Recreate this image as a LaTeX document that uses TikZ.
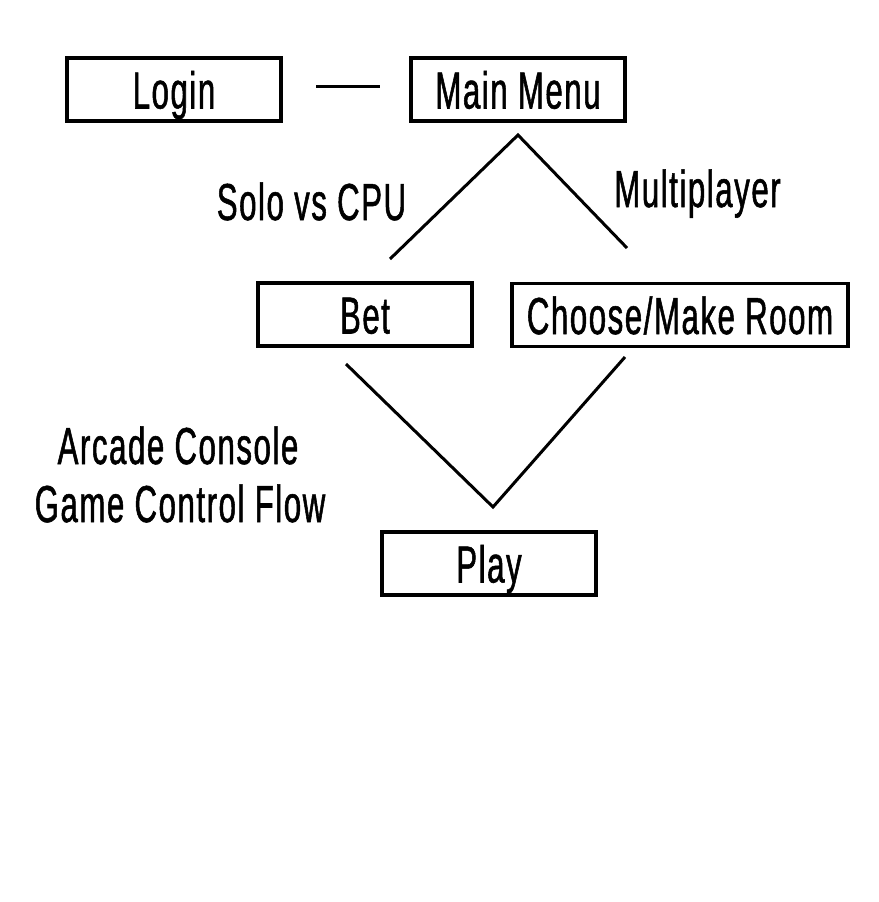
\documentclass[tikz,border=0pt]{standalone}
\usepackage{fontspec}
\setmainfont{Liberation Sans}[FakeStretch=0.6,FakeBold=1,LetterSpace=3]
\begin{document}
\begin{tikzpicture}[x=1pt,y=-1pt,
  box/.style={draw=black,line width=3.4pt,inner sep=0pt,minimum width=214pt,minimum height=63pt,
    text height=38pt,text depth=0pt,font=\fontsize{52}{58}\selectfont},
  lbl/.style={inner sep=0pt,anchor=base,font=\fontsize{52}{58}\selectfont},
  link/.style={draw=black,line width=3pt}]
\useasboundingbox[fill=white] (0,0) rectangle (878,902);
% boxes
\node[box] (login) at (174,89.5) {Login};
\node[box] (main) at (518,89.5) {Main Menu};
\node[box] (bet) at (365,314.5) {Bet};
\node[box,minimum width=336pt] (room) at (680,315) {Choose/Make Room};
\node[box] (play) at (489,563.5) {Play};
% labels
\node[lbl] (solo) at (311.5,220) {Solo vs CPU};
\node[lbl] (multi) at (697.5,207) {Multiplayer};
\node[lbl] (title1) at (178,464) {Arcade Console};
\node[lbl] (title2) at (180,522) {Game Control Flow};
% connector end points
\coordinate (lm1) at (316,86);
\coordinate (lm2) at (380,86);
\coordinate (mtop) at (518,135);
\coordinate (mleft) at (390,259);
\coordinate (mright) at (627,248);
\coordinate (bstart) at (346,364);
\coordinate (apex) at (493,507);
\coordinate (rstart) at (625,357);
% connectors
\draw[link] (lm1) -- (lm2);
\draw[link] (mleft) -- (mtop) -- (mright);
\draw[link] (bstart) -- (apex) -- (rstart);
\end{tikzpicture}
\end{document}
